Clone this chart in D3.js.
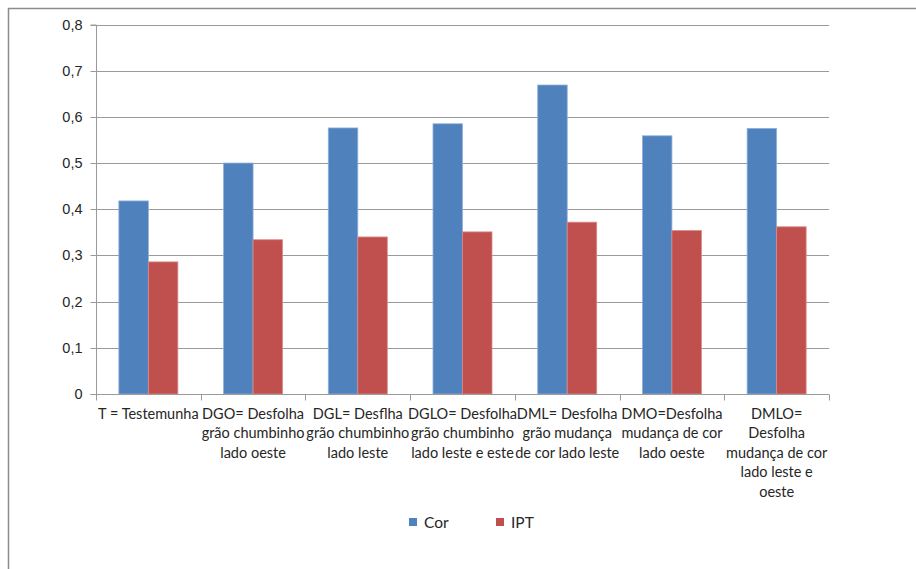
<!DOCTYPE html>
<html>
<head>
<meta charset="utf-8">
<script src="https://cdn.jsdelivr.net/npm/d3@7"></script>
<style>
  html, body { margin: 0; padding: 0; background: #fff; }
  svg { display: block; font-family: Lato, "Open Sans", sans-serif; }
</style>
</head>
<body>
<svg id="chart" width="916" height="569"></svg>
<script>
// Treatment labels (line breaks as shown under each group)
const categories = [
  "T = Testemunha",
  "DGO= Desfolha\ngrão chumbinho\nlado oeste",
  "DGL= Desflha\ngrão chumbinho\nlado leste",
  "DGLO= Desfolha\ngrão chumbinho\nlado leste e este",
  "DML= Desfolha\ngrão mudança\nde cor lado leste",
  "DMO=Desfolha\nmudança de cor\nlado oeste",
  "DMLO=\nDesfolha\nmudança de cor\nlado leste e\noeste"
];
const seriesNames = ["Cor", "IPT"];
const corValues = [0.418, 0.500, 0.576, 0.585, 0.669, 0.559, 0.575];
const iptValues = [0.286, 0.334, 0.340, 0.351, 0.372, 0.354, 0.362];
const yTicks = [0, 0.1, 0.2, 0.3, 0.4, 0.5, 0.6, 0.7, 0.8];
const colors = ["#4F81BD", "#C0504D"];

const svg = d3.select("#chart");
const fontSize = "14.5px";

// Outer chart frame
svg.append("rect")
  .attr("x", 8.5).attr("y", 8.5)
  .attr("width", 940).attr("height", 600)
  .attr("fill", "none").attr("stroke", "#8c8c8c").attr("stroke-width", 1.5);

const plot = { left: 96, right: 829, top: 24.5, bottom: 394 };

const x = d3.scaleBand()
  .domain(d3.range(categories.length))
  .range([plot.left, plot.right])
  .paddingInner(0).paddingOuter(0);

const y = d3.scaleLinear().domain([0, 0.8]).range([plot.bottom, plot.top]);

const inner = d3.scaleBand()
  .domain(seriesNames)
  .range([0, x.bandwidth()])
  .paddingInner(0)
  .paddingOuter(0.775);

// Horizontal gridlines
svg.append("g")
  .selectAll("line")
  .data(yTicks.filter(t => t > 0))
  .join("line")
  .attr("x1", plot.left).attr("x2", plot.right)
  .attr("y1", d => Math.round(y(d)) + 0.5).attr("y2", d => Math.round(y(d)) + 0.5)
  .attr("stroke", "#9a9a9a").attr("stroke-width", 1);

// Y axis
const yAxis = d3.axisLeft(y)
  .tickValues(yTicks)
  .tickSize(6)
  .tickPadding(8)
  .tickFormat(d => d3.format(".1f")(d).replace(".", ",").replace(/^0,0$/, "0"));
const gy = svg.append("g").attr("transform", `translate(${plot.left + 0.5},0.5)`).call(yAxis);
gy.select(".domain").attr("stroke", "#9a9a9a").attr("d", `M-6,${y(0.8)}H0V${y(0)}H-6`);
gy.selectAll(".tick line").attr("stroke", "#9a9a9a");
gy.selectAll(".tick text").attr("fill", "#262626").style("font-size", fontSize);
gy.selectAll(".tick").attr("transform", d => `translate(0,${Math.round(y(d))})`);

// Bars
const data = categories.map((c, i) => ({ i, values: [corValues[i], iptValues[i]] }));
const groups = svg.append("g").selectAll("g")
  .data(data)
  .join("g")
  .attr("transform", d => `translate(${x(d.i)},0)`);

groups.selectAll("rect")
  .data(d => d.values.map((v, k) => ({ v, k })))
  .join("rect")
  .attr("x", d => inner(seriesNames[d.k]))
  .attr("width", inner.bandwidth())
  .attr("y", d => y(d.v))
  .attr("height", d => y(0) - y(d.v))
  .attr("fill", d => colors[d.k])
  .attr("stroke", d => d.k === 0 ? "#8eb0db" : "#d98a88")
  .attr("stroke-width", 0.8);

// X axis baseline and category ticks
const xAxis = d3.axisBottom(x).tickSize(0).tickFormat("");
const gx = svg.append("g").attr("transform", `translate(0,${plot.bottom + 0.5})`).call(xAxis);
gx.select(".domain").attr("stroke", "#9a9a9a").attr("d", `M${plot.left},0H${plot.right}`);
gx.selectAll(".tick").remove();
gx.selectAll("line.cat")
  .data(d3.range(categories.length + 1))
  .join("line")
  .attr("class", "cat")
  .attr("x1", d => Math.round(plot.left + d * x.step()) + 0.5)
  .attr("x2", d => Math.round(plot.left + d * x.step()) + 0.5)
  .attr("y1", 0).attr("y2", 6)
  .attr("stroke", "#9a9a9a");

// Category labels
const labels = svg.append("g").selectAll("text")
  .data(categories)
  .join("text")
  .attr("text-anchor", "middle")
  .attr("fill", "#262626")
  .style("font-size", fontSize)
  .attr("transform", (d, i) => `translate(${x(i) + x.bandwidth() / 2},${plot.bottom + 25})`);
labels.selectAll("tspan")
  .data(d => d.split("\n"))
  .join("tspan")
  .attr("x", 0)
  .attr("y", (d, j) => j * 19.4)
  .text(d => d);

// Legend
const legend = svg.append("g").attr("transform", "translate(409,518)");
const items = legend.selectAll("g")
  .data(seriesNames)
  .join("g")
  .attr("transform", (d, i) => `translate(${i * 87},0)`);
items.append("rect")
  .attr("width", 8).attr("height", 8)
  .attr("fill", (d, i) => colors[i]);
items.append("text")
  .attr("x", 15).attr("y", 9.5)
  .attr("fill", "#262626")
  .style("font-size", "15.5px")
  .text(d => d);
</script>
</body>
</html>
